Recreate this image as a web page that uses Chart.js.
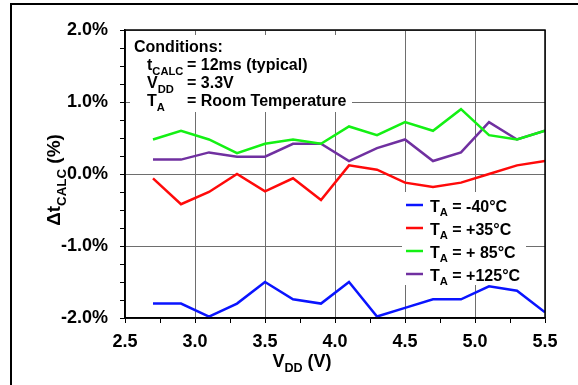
<!DOCTYPE html>
<html>
<head>
<meta charset="utf-8">
<script src="https://cdn.jsdelivr.net/npm/chart.js@4/dist/chart.umd.min.js"></script>
<style>
html,body{margin:0;padding:0;background:#fff;}
#wrap{position:relative;width:578px;height:385px;}
</style>
</head>
<body>
<div id="wrap"><canvas id="c" width="578" height="385"></canvas></div>
<script>
// ---- data ----
const vdd = [2.7, 2.9, 3.1, 3.3, 3.5, 3.7, 3.9, 4.1, 4.3, 4.5, 4.7, 4.9, 5.1, 5.3, 5.5];
const taMinus40 = [-1.80, -1.80, -1.98, -1.80, -1.50, -1.74, -1.80, -1.50, -1.98, -1.86, -1.74, -1.74, -1.56, -1.62, -1.92];
const taPlus35  = [-0.06, -0.42, -0.25, 0.00, -0.24, -0.06, -0.36, 0.12, 0.06, -0.12, -0.18, -0.12, 0.00, 0.12, 0.18];
const taPlus85  = [0.48, 0.60, 0.48, 0.29, 0.42, 0.48, 0.42, 0.66, 0.54, 0.72, 0.60, 0.90, 0.54, 0.48, 0.60];
const taPlus125 = [0.20, 0.20, 0.30, 0.24, 0.24, 0.42, 0.42, 0.18, 0.36, 0.48, 0.18, 0.30, 0.72, 0.48, 0.60];
const seriesLabels = ['T_{A} = -40°C', 'T_{A} = +35°C', 'T_{A} = + 85°C', 'T_{A} = +125°C'];
const seriesColors = ['#0a14ff', '#ff0a0a', '#14f014', '#7030a0'];
const conditionLines = [
  ['Conditions:', ''],
  ['t_{CALC}', '= 12ms (typical)'],
  ['V_{DD}', '= 3.3V'],
  ['T_{A}', '= Room Temperature']
];
const xTitle = 'V_{DD} (V)';
const yTitle = 'Δt_{CALC} (%)';

// ---- helpers ----
const FONT = '"Liberation Sans", Arial, sans-serif';
function parseRuns(s){
  const runs=[]; const re=/_\{([^}]*)\}/g; let last=0, m;
  while((m=re.exec(s))){ if(m.index>last) runs.push({t:s.slice(last,m.index),sub:false}); runs.push({t:m[1],sub:true}); last=re.lastIndex; }
  if(last<s.length) runs.push({t:s.slice(last),sub:false});
  return runs;
}
function runsWidth(ctx, runs, size){
  let w=0; for(const r of runs){ ctx.font='bold '+(r.sub?size*0.7:size)+'px '+FONT; w+=ctx.measureText(r.t).width; } return w;
}
function drawRuns(ctx, x, y, s, size, color){
  const runs=parseRuns(s); ctx.fillStyle=color||'#000'; ctx.textBaseline='alphabetic'; ctx.textAlign='left';
  let cx=x;
  for(const r of runs){
    const fs=r.sub?size*0.7:size;
    ctx.font='bold '+fs+'px '+FONT;
    ctx.fillText(r.t, cx, r.sub? y+size*0.3 : y);
    cx+=ctx.measureText(r.t).width;
  }
  return cx;
}
const isMult = (v, step) => Math.abs(v/step - Math.round(v/step)) < 1e-6;

const decorPlugin = {
  id:'decor',
  beforeDraw(chart){
    const ctx=chart.ctx; ctx.save();
    ctx.fillStyle='#000';
    ctx.fillRect(10,3,2,400);
    ctx.fillRect(10,3,600,2);
    ctx.restore();
  },
  beforeDatasetsDraw(chart){
    const ctx=chart.ctx; ctx.save();
    ctx.fillStyle='#fff';
    ctx.fillRect(130,35,222,77);
    ctx.fillRect(402,192,124,93);
    ctx.restore();
  },
  afterDatasetsDraw(chart){
    const ctx=chart.ctx; const a=chart.chartArea; ctx.save();
    // plot frame
    ctx.strokeStyle='#000'; ctx.lineWidth=1.5;
    ctx.strokeRect(a.left, a.top, a.right-a.left, a.bottom-a.top);
    // conditions
    const base=[52,70,88,106];
    conditionLines.forEach((ln,i)=>{
      if(i===0){ drawRuns(ctx,134,base[i],ln[0],16); }
      else { drawRuns(ctx,147,base[i],ln[0],16); drawRuns(ctx,187,base[i],ln[1],16); }
    });
    // legend
    const rows=[205,228,251,274];
    chart.data.datasets.forEach((ds,i)=>{
      ctx.strokeStyle=ds.borderColor; ctx.lineWidth=2.5;
      ctx.beginPath(); ctx.moveTo(406,rows[i]); ctx.lineTo(423,rows[i]); ctx.stroke();
      drawRuns(ctx,430,rows[i]+6.5,seriesLabels[i],16);
    });
    // x title
    const w=runsWidth(ctx,parseRuns(xTitle),18);
    drawRuns(ctx,302-w/2,367,xTitle,18);
    // y title
    ctx.save();
    ctx.translate(60,180); ctx.rotate(-Math.PI/2);
    const yr=parseRuns(yTitle);
    const wy=runsWidth(ctx,yr,19);
    drawRuns(ctx,-wy/2,0,yTitle,19);
    ctx.restore();
    ctx.restore();
  }
};

const mk=(i,data)=>({label:seriesLabels[i].replace(/_\{([^}]*)\}/g,'$1'),data:vdd.map((x,k)=>({x:x,y:data[k]})),borderColor:seriesColors[i],backgroundColor:seriesColors[i],borderWidth:2.5,pointRadius:0,tension:0,fill:false});

new Chart(document.getElementById('c'),{
  type:'line',
  data:{datasets:[mk(0,taMinus40),mk(1,taPlus35),mk(2,taPlus85),mk(3,taPlus125)]},
  options:{
    responsive:false, animation:false, devicePixelRatio:1,
    layout:{padding:{top:30,right:33,left:0,bottom:0}},
    plugins:{legend:{display:false},tooltip:{enabled:false}},
    scales:{
      x:{type:'linear',min:2.5,max:5.5,
        afterFit(s){s.height=67;},
        ticks:{stepSize:0.25,autoSkip:false,maxRotation:0,minRotation:0,padding:8,color:'#000',
          font:{family:FONT,size:18,weight:'bold'},
          callback:v=>isMult(v,0.5)?v.toFixed(1):''},
        grid:{color:c=>(c.tick&&isMult(c.tick.value,0.5))?'#6e6e6e':'rgba(0,0,0,0)',tickColor:'#000',tickLength:5,lineWidth:1},
        border:{color:'#000',width:1.5}
      },
      y:{type:'linear',min:-2,max:2,
        afterFit(s){s.width=125;},
        ticks:{stepSize:0.25,autoSkip:false,padding:12,color:'#000',
          font:{family:FONT,size:18,weight:'bold'},
          callback:v=>isMult(v,1)?v.toFixed(1)+'%':''},
        grid:{color:c=>(c.tick&&isMult(c.tick.value,1))?'#6e6e6e':'rgba(0,0,0,0)',tickColor:'#000',tickLength:5,lineWidth:1},
        border:{color:'#000',width:1.5}
      }
    }
  },
  plugins:[decorPlugin]
});
</script>
</body>
</html>
